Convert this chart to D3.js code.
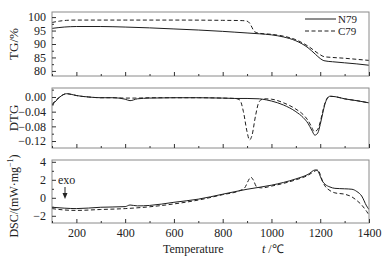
<!DOCTYPE html>
<html><head><meta charset="utf-8">
<script src="https://cdn.jsdelivr.net/npm/d3@7"></script>
<style>
body{margin:0;background:#fff}
svg{display:block}
text{font-family:"Liberation Serif","Times New Roman",serif;fill:#222}
</style></head>
<body><svg id="c" width="388" height="259"></svg>
<script>
// ---- data ----
const seriesNames = ["N79", "C79"];
const xTicks = [200, 400, 600, 800, 1000, 1200, 1400];

const tgTempN = [100,150,200,300,400,500,600,700,800,850,900,950,1000,1050,1100,1150,1180,1200,1215,1250,1300,1350,1400];
const tgN79   = [95.8,96.3,96.5,96.5,96.3,96.0,95.6,95.2,94.7,94.4,94.1,93.8,93.4,92.6,91.2,88.6,86.2,84.6,83.8,83.4,83.0,82.6,82.1];
const tgTempC = [100,130,160,200,400,600,800,880,900,910,920,930,950,1000,1050,1100,1150,1200,1215,1250,1300,1350,1400];
const tgC79   = [98.0,98.5,98.8,98.9,98.9,98.9,98.8,98.7,98.5,97.8,96.2,94.6,94.0,93.6,92.9,91.6,89.2,86.0,85.3,85.0,84.7,84.3,83.9];

const dtgTempN = [100,120,140,160,180,200,250,300,350,400,420,450,500,600,700,800,850,900,950,980,1000,1050,1100,1130,1150,1165,1178,1190,1200,1210,1220,1230,1240,1260,1300,1350,1400];
const dtgN79   = [-0.023,-0.008,0.004,0.009,0.007,0.004,0.000,-0.002,-0.002,-0.006,-0.010,-0.005,-0.003,-0.002,-0.002,-0.003,-0.004,-0.004,-0.005,-0.008,-0.011,-0.022,-0.040,-0.056,-0.072,-0.090,-0.104,-0.098,-0.075,-0.045,-0.018,-0.003,0.002,0.001,-0.005,-0.010,-0.016];
const dtgTempC = [100,120,140,160,180,200,250,300,350,400,450,500,600,700,800,850,870,885,900,910,920,935,950,970,1000,1050,1100,1130,1150,1165,1175,1188,1200,1210,1220,1230,1240,1260,1300,1350,1400];
const dtgC79   = [-0.020,-0.006,0.004,0.009,0.007,0.004,0.000,-0.002,-0.002,-0.003,-0.003,-0.002,-0.002,-0.002,-0.003,-0.004,-0.008,-0.040,-0.095,-0.117,-0.105,-0.050,-0.012,-0.005,-0.006,-0.016,-0.033,-0.048,-0.064,-0.082,-0.094,-0.090,-0.068,-0.040,-0.015,-0.002,0.002,0.001,-0.005,-0.010,-0.016];

const dscTempN = [100,150,200,300,400,420,450,500,600,700,800,900,1000,1100,1150,1180,1190,1200,1210,1220,1240,1260,1300,1330,1350,1370,1390,1400];
const dscN79   = [-1.05,-1.15,-1.2,-1.05,-0.98,-0.8,-0.9,-0.85,-0.5,-0.15,0.4,0.95,1.4,2.1,2.6,3.1,3.0,2.4,1.8,1.5,1.2,1.05,1.0,0.95,0.7,0.2,-0.9,-1.3];
const dscTempC = [100,150,200,300,400,500,600,700,800,870,890,905,915,925,940,960,1000,1100,1150,1180,1190,1200,1210,1220,1240,1260,1300,1330,1350,1370,1390,1400];
const dscC79   = [-1.2,-1.35,-1.4,-1.3,-1.2,-1.0,-0.68,-0.25,0.35,0.8,1.1,1.9,2.3,2.0,1.2,1.1,1.3,2.0,2.5,3.0,3.1,2.6,1.8,1.3,0.8,0.55,0.4,0.1,-0.3,-0.8,-1.5,-1.9];

const tgTicks  = [80, 85, 90, 95, 100];
const dtgTicks = [0.00, -0.04, -0.08, -0.12];
const dscTicks = [-2, 0, 2, 4];

// ---- layout ----
const svg = d3.select("#c");
const L = 52, R = 369;
const x = d3.scaleLinear().domain([100, 1400]).range([L, R]);
const lineColor = "#1e1e1e", frameColor = "#8a8a8a";

const panels = [
  {top: 12, bottom: 76, domain: [78.1, 101.9], ticks: tgTicks, minor: d3.range(77.5, 102, 2.5), fmt: d3.format("d"),
   title: "TG/%", tN: tgTempN, vN: tgN79, tC: tgTempC, vC: tgC79},
  {top: 88, bottom: 148, domain: [-0.139, 0.0245], ticks: dtgTicks, minor: d3.range(-0.14, 0.03, 0.02), fmt: d => d3.format(".2f")(d).replace("-", "\u2212"),
   title: "DTG", tN: dtgTempN, vN: dtgN79, tC: dtgTempC, vC: dtgC79},
  {top: 160, bottom: 223, domain: [-2.8, 4.2], ticks: dscTicks, minor: d3.range(-2, 4.5, 1), fmt: d => d3.format("d")(d).replace("-", "\u2212"),
   title: null, tN: dscTempN, vN: dscN79, tC: dscTempC, vC: dscC79, xlabels: true}
];

panels.forEach((p, i) => {
  const y = d3.scaleLinear().domain(p.domain).range([p.bottom, p.top]);
  const g = svg.append("g");
  const clipId = "clip" + i;
  svg.append("clipPath").attr("id", clipId).append("rect")
    .attr("x", L).attr("y", p.top).attr("width", R - L).attr("height", p.bottom - p.top);

  // curves
  const line = (ts, vs) => d3.line().x((d, k) => x(ts[k])).y(d => y(d)).curve(d3.curveMonotoneX)(vs);
  g.append("path").attr("d", line(p.tN, p.vN)).attr("fill", "none").attr("stroke", lineColor)
    .attr("stroke-width", 1).attr("clip-path", `url(#${clipId})`);
  g.append("path").attr("d", line(p.tC, p.vC)).attr("fill", "none").attr("stroke", lineColor)
    .attr("stroke-width", 1).attr("stroke-dasharray", "4,2.5").attr("clip-path", `url(#${clipId})`);

  // frame
  g.append("rect").attr("x", L).attr("y", p.top).attr("width", R - L).attr("height", p.bottom - p.top)
    .attr("fill", "none").attr("stroke", frameColor).attr("stroke-width", 1);

  // x ticks (inward)
  const xMinor = d3.range(100, 1401, 100).filter(v => !xTicks.includes(v));
  const xa = d3.axisBottom(x).tickValues(xTicks).tickSizeInner(-4).tickSizeOuter(0).tickPadding(5)
    .tickFormat(p.xlabels ? d3.format("d") : "");
  const xg = g.append("g").attr("transform", `translate(0,${p.bottom})`).call(xa);
  xg.select(".domain").remove();
  xg.selectAll("line").attr("stroke", "#333");
  xg.selectAll("text").attr("font-size", 12).attr("font-family", "Liberation Serif").attr("fill", "#222");
  const xm = d3.axisBottom(x).tickValues(xMinor).tickSizeInner(-2).tickSizeOuter(0).tickFormat("");
  const xmg = g.append("g").attr("transform", `translate(0,${p.bottom})`).call(xm);
  xmg.select(".domain").remove();
  xmg.selectAll("line").attr("stroke", "#333");

  // y ticks (inward)
  const ya = d3.axisLeft(y).tickValues(p.ticks).tickSizeInner(-4).tickSizeOuter(0).tickPadding(6).tickFormat(p.fmt);
  const yg = g.append("g").attr("transform", `translate(${L},0)`).call(ya);
  yg.select(".domain").remove();
  yg.selectAll("line").attr("stroke", "#333");
  yg.selectAll("text").attr("font-size", 12).attr("font-family", "Liberation Serif").attr("fill", "#222");
  const ym = d3.axisLeft(y).tickValues(p.minor.filter(v => v > p.domain[0] && v < p.domain[1] && !p.ticks.some(t => Math.abs(t - v) < 1e-9)))
    .tickSizeInner(-2).tickSizeOuter(0).tickFormat("");
  const ymg = g.append("g").attr("transform", `translate(${L},0)`).call(ym);
  ymg.select(".domain").remove();
  ymg.selectAll("line").attr("stroke", "#333");

  if (p.title) {
    svg.append("text").attr("transform", `translate(18,${(p.top + p.bottom) / 2}) rotate(-90)`)
      .attr("text-anchor", "middle").attr("font-size", 13).text(p.title);
  }
});

// DSC title with superscript
const dscT = svg.append("text").attr("transform", "translate(18,196) rotate(-90)")
  .attr("text-anchor", "middle").attr("font-size", 12);
dscT.append("tspan").text("DSC/(mW\u00b7mg");
dscT.append("tspan").attr("font-size", 8).attr("dy", -5).text("\u22121");
dscT.append("tspan").attr("dy", 5).text(")");

// legend
const legend = [{name: seriesNames[0], dash: null, y: 19}, {name: seriesNames[1], dash: "4,2.5", y: 31}];
legend.forEach(d => {
  svg.append("line").attr("x1", 305).attr("x2", 336).attr("y1", d.y).attr("y2", d.y)
    .attr("stroke", lineColor).attr("stroke-width", 1).attr("stroke-dasharray", d.dash);
  svg.append("text").attr("x", 338).attr("y", d.y + 4).attr("font-size", 11).text(d.name);
});

// exo annotation
svg.append("text").attr("x", 58).attr("y", 184).attr("font-size", 12).text("exo");
svg.append("line").attr("x1", 65).attr("x2", 65).attr("y1", 187).attr("y2", 196)
  .attr("stroke", "#222").attr("stroke-width", 1);
svg.append("path").attr("d", "M62.5,193 L65,199 L67.5,193 Z").attr("fill", "#222");

// x title
const xt = svg.append("text").attr("x", 163).attr("y", 253).attr("font-size", 12);
xt.append("tspan").text("Temperature");
xt.append("tspan").attr("x", 262).attr("font-style", "italic").text("t");
xt.append("tspan").text(" /\u2103");
</script></body></html>
